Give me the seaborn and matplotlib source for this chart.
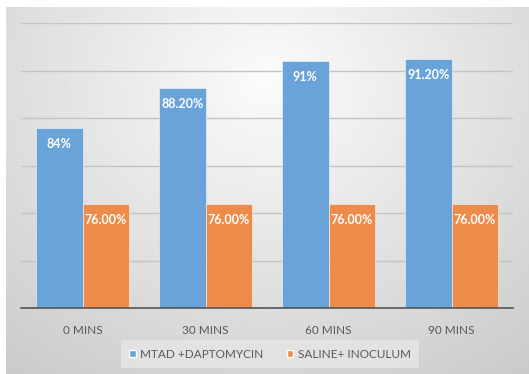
import numpy as np
import pandas as pd
import matplotlib
matplotlib.use("Agg")
import matplotlib.pyplot as plt
import seaborn as sns
from matplotlib.patches import Patch

# Time points and the two treatment series (percent)
categories = ["0 MINS", "30 MINS", "60 MINS", "90 MINS"]
mtad_values = [84.0, 88.2, 91.0, 91.2]
saline_values = [76.0, 76.0, 76.0, 76.0]
mtad_labels = ["84%", "88.20%", "91%", "91.20%"]
saline_labels = ["76.00%", "76.00%", "76.00%", "76.00%"]
series_names = ["MTAD +DAPTOMYCIN", "SALINE+ INOCULUM"]

df = pd.DataFrame({
    "time": categories * 2,
    "value": mtad_values + saline_values,
    "series": [series_names[0]] * 4 + [series_names[1]] * 4,
})

sns.set_theme(style="white")
plt.rcParams["font.family"] = ["Lato", "DejaVu Sans"]

W, H = 529, 374
fig = plt.figure(figsize=(W / 100, H / 100), dpi=100)
fig.patch.set_facecolor("white")

# Chart area with a soft radial gray gradient
x0, y0 = 6, 7
bg = fig.add_axes([x0 / W, 0, 1 - x0 / W, 1 - y0 / H], zorder=0)
gx = np.linspace(0, 1, 400)
gy = np.linspace(0, 1, 300)
XX, YY = np.meshgrid(gx, gy)
d = np.sqrt(((XX - 0.5) / 0.8) ** 2 + ((YY - 0.2) / 1.0) ** 2)
shade = 0.985 - 0.19 * np.clip(d, 0, 1.1)
bg.imshow(shade, cmap="gray", vmin=0, vmax=1, aspect="auto",
          extent=[0, 1, 1, 0], interpolation="bilinear")
bg.set_axis_off()

ax = fig.add_axes([21 / W, (H - 308) / H, (513 - 21) / W, (308 - 23) / H], zorder=1)
ax.patch.set_alpha(0)

palette = ["#6aa3d8", "#ec8b4a"]
sns.barplot(data=df, x="time", y="value", hue="series", palette=palette,
            width=0.76, gap=0, saturation=1, ax=ax, legend=False,
            edgecolor=(1, 1, 1, 0.6), linewidth=0.6)

ax.set_ylim(65, 95)
ax.set_xlim(-0.5, 3.5)
ax.set_yticks(np.arange(65, 96, 5))
ax.yaxis.grid(True, color="#c4c4c4", linewidth=1)
ax.set_axisbelow(True)
ax.tick_params(axis="y", left=False, labelleft=False)
ax.tick_params(axis="x", bottom=False, labelsize=8.5, labelcolor="#595959", pad=6)
ax.set_xlabel("")
ax.set_ylabel("")
for side in ["top", "left", "right"]:
    ax.spines[side].set_visible(False)
ax.spines["bottom"].set_color("#555555")
ax.spines["bottom"].set_linewidth(1.2)

# Value labels just inside the top of each bar
for container, labels in zip(ax.containers, [mtad_labels, saline_labels]):
    ax.bar_label(container, labels=labels, label_type="edge", padding=-16,
                 color="white", fontsize=9, fontweight="bold")

handles = [Patch(facecolor=palette[0]), Patch(facecolor=palette[1])]
leg = fig.legend(handles, series_names, loc="center", ncol=2,
                 bbox_to_anchor=(270 / W, 1 - 354 / H), frameon=True,
                 fontsize=8.5, handlelength=0.55, handleheight=0.55,
                 handletextpad=0.35, columnspacing=2.0, borderpad=0.75,
                 borderaxespad=0, fancybox=False)
leg.get_frame().set_facecolor("#e6e6e6")
leg.get_frame().set_edgecolor("none")
for t in leg.get_texts():
    t.set_color("#595959")

fig.savefig("out.png", dpi=100)
